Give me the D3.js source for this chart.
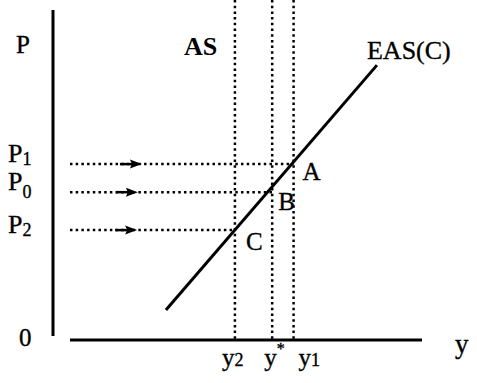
<!DOCTYPE html>
<html>
<head>
<meta charset="utf-8">
<script src="https://cdn.jsdelivr.net/npm/d3@7"></script>
<style>
  body { margin: 0; background: #fff; }
  svg text { font-family: "Liberation Serif", "Times New Roman", serif; fill: #000; }
  svg text.heavy { stroke: #000; stroke-width: 0.35px; }
</style>
</head>
<body>
<div class="chart"></div>
<script>
// price levels on the P axis (P1 highest)
const priceNames = ["1", "0", "2"];
const priceValues = [53.3, 44.8, 33.3];
const arrowValues = [24.1, 23.0, 22.8];

// output levels on the y axis: y2, y*, y1
const outputNames = ["2", "*", "1"];
const outputValues = [49.3, 59.4, 65.2];

// EAS(C) schedule, two end points
const easX = [30.6, 87.8];
const easP = [9.1, 83.3];

const pointNames = ["A", "B", "C"];

const width = 477;
const height = 383;

const svg = d3.select(".chart")
    .append("svg")
    .attr("width", width)
    .attr("height", height);

const x = d3.scaleLinear().domain([0, 100]).range([53, 422]);
const y = d3.scaleLinear().domain([0, 100]).range([340, 10]);

_drawAxes();
_drawGuides();
_drawCurve();
_drawLabels();

function _drawAxes() {
    svg.append("line")
        .attr("x1", x(0)).attr("x2", x(0))
        .attr("y1", y(100)).attr("y2", y(0) - 4)
        .attr("stroke", "#000")
        .attr("stroke-width", 3);

    svg.append("line")
        .attr("x1", x(4.6)).attr("x2", x(100))
        .attr("y1", y(0)).attr("y2", y(0))
        .attr("stroke", "#000")
        .attr("stroke-width", 3);
}

function _drawGuides() {
    const g = svg.append("g")
        .attr("stroke", "#000")
        .attr("stroke-width", 2.5)
        .attr("stroke-dasharray", "2.5,3.2");

    g.selectAll(".vguide")
        .data(outputValues)
        .enter()
        .append("line")
        .attr("class", "vguide")
        .attr("x1", (d) => x(d)).attr("x2", (d) => x(d))
        .attr("y1", 0).attr("y2", y(0));

    // horizontal guides run to the EAS(C) point at each price
    g.selectAll(".hguide")
        .data(priceValues)
        .enter()
        .append("line")
        .attr("class", "hguide")
        .attr("x1", x(4.6))
        .attr("x2", (d, i) => x(outputValues[2 - i]))
        .attr("y1", (d) => y(d)).attr("y2", (d) => y(d));

    svg.selectAll(".arrow")
        .data(priceValues)
        .enter()
        .append("path")
        .attr("class", "arrow")
        .attr("d", (d, i) => {
            const tx = x(arrowValues[i]);
            const ty = y(d);
            return `M${tx} ${ty}L${tx - 12} ${ty - 4.5}L${tx - 10} ${ty}L${tx - 12} ${ty + 4.5}Z`;
        })
        .attr("fill", "#000");

    svg.selectAll(".shaft")
        .data(priceValues)
        .enter()
        .append("line")
        .attr("class", "shaft")
        .attr("x1", (d, i) => x(arrowValues[i]) - 22)
        .attr("x2", (d, i) => x(arrowValues[i]) - 8)
        .attr("y1", (d) => y(d)).attr("y2", (d) => y(d))
        .attr("stroke", "#000")
        .attr("stroke-width", 2.5);
}

function _drawCurve() {
    const line = d3.line()
        .x((d) => x(d[0]))
        .y((d) => y(d[1]));

    svg.append("path")
        .attr("d", line(d3.zip(easX, easP)))
        .attr("fill", "none")
        .attr("stroke", "#000")
        .attr("stroke-width", 3);
}

function _drawLabels() {
    const fs = 25;

    svg.append("text")
        .attr("class", "heavy")
        .attr("x", 16).attr("y", 53)
        .style("font-size", fs + "px")
        .text("P");

    svg.append("text")
        .attr("x", 184).attr("y", 55)
        .style("font-size", "26px")
        .style("font-weight", "bold")
        .text("AS");

    svg.append("text")
        .attr("class", "heavy")
        .attr("x", x(easX[1]) - 10).attr("y", y(easP[1]) - 6)
        .style("font-size", "26px")
        .text("EAS(C)");

    svg.append("text")
        .attr("class", "heavy")
        .attr("x", 19).attr("y", y(0) + 6)
        .style("font-size", fs + "px")
        .text("0");

    svg.append("text")
        .attr("class", "heavy")
        .attr("x", 455).attr("y", 353)
        .style("font-size", "27px")
        .text("y");

    const pl = svg.selectAll(".plabel")
        .data(priceValues)
        .enter()
        .append("text")
        .attr("class", "plabel heavy")
        .attr("x", 8)
        .attr("y", (d, i) => y(d) + [-2, -2, 3][i])
        .style("font-size", "26px");
    pl.append("tspan").text("P");
    pl.append("tspan")
        .attr("dy", (d, i) => [3, 8, 3][i])
        .style("font-size", "18px")
        .text((d, i) => priceNames[i]);

    const yl = svg.selectAll(".ylabel")
        .data(outputValues)
        .enter()
        .append("text")
        .attr("class", "ylabel heavy")
        .attr("x", (d, i) => x(d) - [13, 8, -5][i])
        .attr("y", 366)
        .style("font-size", "25px");
    yl.append("tspan").text("y");
    yl.append("tspan")
        .attr("dy", (d, i) => outputNames[i] === "*" ? -12 : 0)
        .style("font-size", (d, i) => outputNames[i] === "*" ? "16px" : "18px")
        .text((d, i) => outputNames[i]);

    svg.selectAll(".point")
        .data(pointNames)
        .enter()
        .append("text")
        .attr("class", "point heavy")
        .attr("x", (d, i) => x(outputValues[2 - i]) + [9, 6, 11][i])
        .attr("y", (d, i) => y(priceValues[i]) + [16, 18, 20][i])
        .style("font-size", "25px")
        .text((d) => d);
}
</script>
</body>
</html>
